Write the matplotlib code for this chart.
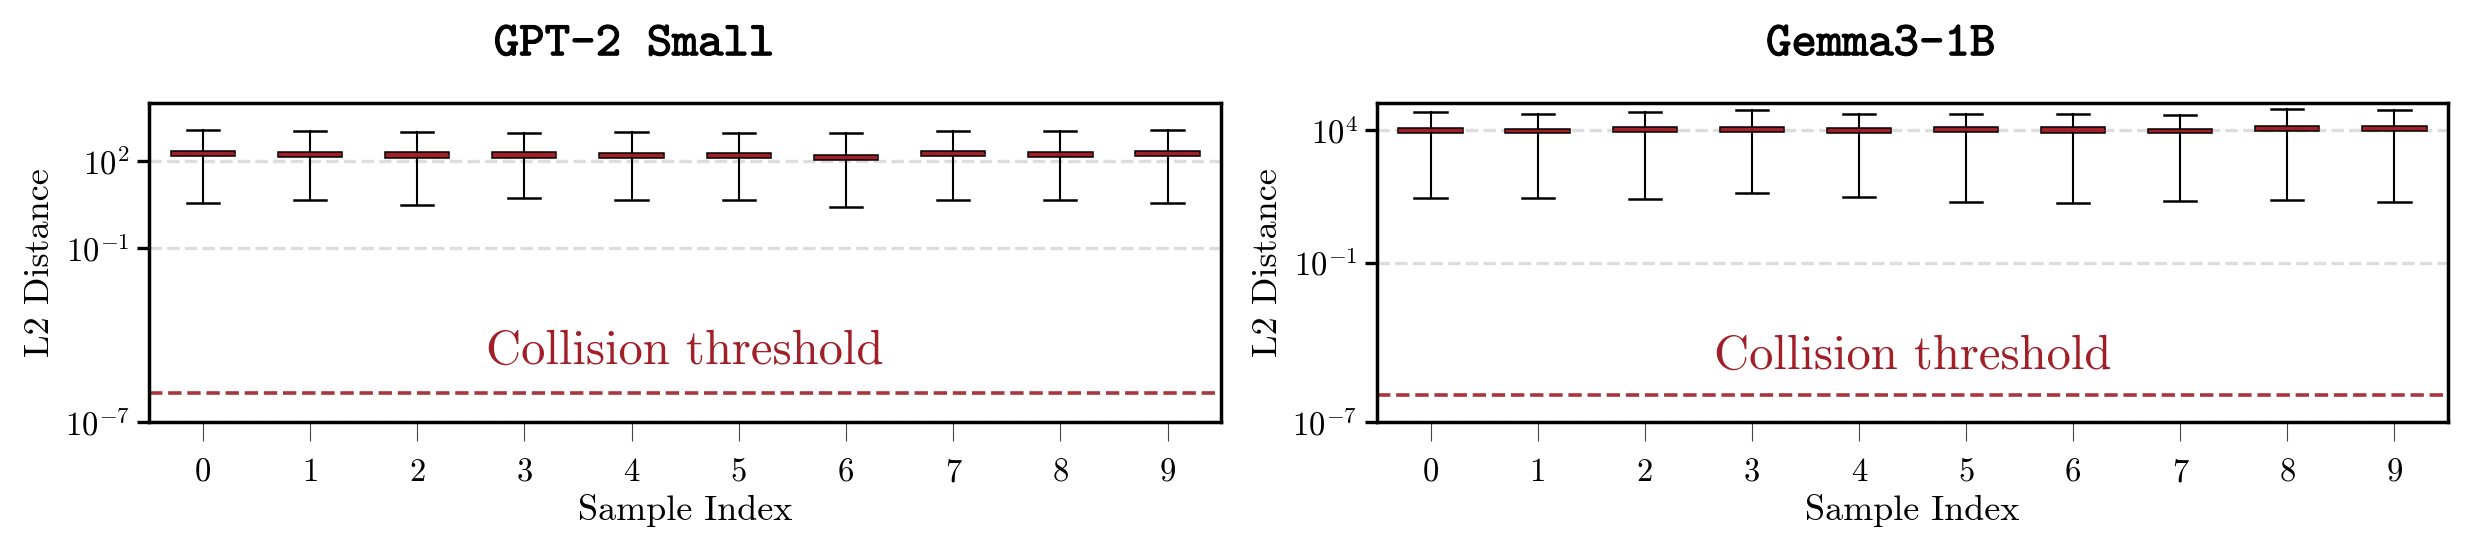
"""Per-sample L2 distance box plots for two models, with the collision threshold."""
import matplotlib

matplotlib.use("Agg")
import matplotlib.pyplot as plt
import matplotlib.patheffects as pe
import numpy as np

plt.rcParams["font.family"] = "serif"
plt.rcParams["font.serif"] = ["cmr10"]
plt.rcParams["mathtext.fontset"] = "cm"
plt.rcParams["axes.formatter.use_mathtext"] = True
plt.rcParams["axes.unicode_minus"] = False

RED = "#a11f27"
THRESHOLD = 1e-6

sample_idx = list(range(10))

# GPT-2 Small: whisker low, q1, median, q3, whisker high
gpt2_whislo = [3.47, 4.37, 3.02, 5.13, 4.37, 4.47, 2.63, 4.68, 4.37, 3.47]
gpt2_q1 = [144.5, 134.9, 131.8, 131.8, 123.0, 123.0, 112.2, 144.5, 138.0, 144.5]
gpt2_med = [180.0, 168.0, 164.0, 162.0, 151.0, 151.0, 135.0, 180.0, 170.0, 180.0]
gpt2_q3 = [223.9, 208.9, 204.2, 199.5, 186.2, 186.2, 162.2, 223.9, 208.9, 223.9]
gpt2_whishi = [1148, 1122, 1000, 955, 977, 955, 955, 1122, 1122, 1202]

# Gemma3-1B
gemma_whislo = [27.5, 26.9, 25.1, 42.7, 28.8, 18.2, 17.4, 20.4, 22.4, 18.2]
gemma_q1 = [7586, 7244, 8128, 8128, 7586, 8318, 7586, 7244, 8913, 8710]
gemma_med = [9330, 8910, 9890, 10120, 9330, 10350, 9550, 8910, 10960, 10840]
gemma_q3 = [11482, 10965, 12023, 12589, 11482, 12882, 12023, 10965, 13490, 13490]
gemma_whishi = [45709, 38019, 46774, 52481, 38019, 37154, 37154, 34674, 60256, 52481]

panels = [
    ("GPT-2 Small", gpt2_whislo, gpt2_q1, gpt2_med, gpt2_q3, gpt2_whishi,
     (1e-7, 1e4), [1e-7, 1e-1, 1e2], 0.4524),
    ("Gemma3-1B", gemma_whislo, gemma_q1, gemma_med, gemma_q3, gemma_whishi,
     (1e-7, 1e5), [1e-7, 1e-1, 1e4], 0.4706),
]

fig = plt.figure(figsize=(24.77, 5.56), dpi=100)
axes = [
    fig.add_axes([0.0602, 0.241, 0.4328, 0.5737]),
    fig.add_axes([0.5559, 0.241, 0.4324, 0.5737]),
]

for ax, (title, wlo, q1, med, q3, whi, ylim, yticks, tx) in zip(axes, panels):
    stats = [
        {"whislo": wlo[i], "q1": q1[i], "med": med[i], "q3": q3[i], "whishi": whi[i],
         "fliers": []}
        for i in range(len(sample_idx))
    ]
    ax.bxp(
        stats,
        positions=sample_idx,
        widths=0.6,
        patch_artist=True,
        showfliers=False,
        boxprops=dict(facecolor=RED, edgecolor="black", linewidth=1.1),
        medianprops=dict(color=RED, linewidth=0.8),
        whiskerprops=dict(color="black", linewidth=1.5),
        capprops=dict(color="black", linewidth=1.8),
    )
    ax.axhline(THRESHOLD, color=RED, ls="--", lw=2.6, alpha=0.9)
    ax.text(np.mean(sample_idx), THRESHOLD * 10, "Collision threshold",
            color=RED, fontsize=35, ha="center", va="baseline")

    ax.set_yscale("log")
    ax.set_ylim(*ylim)
    ax.set_xlim(-0.5, 9.5)
    ax.set_yticks(yticks)
    ax.yaxis.set_minor_locator(matplotlib.ticker.NullLocator())
    ax.set_xticks(sample_idx)
    ax.set_xticklabels([str(i) for i in sample_idx])
    ax.yaxis.grid(True, ls="--", color="#dddddd", lw=2.4)
    ax.set_axisbelow(True)

    ax.tick_params(axis="y", labelsize=23.5, width=2.4, length=9, pad=5)
    ax.tick_params(axis="x", labelsize=23.5, width=0.8, length=14, pad=12,
                   color="#444444")
    for sp in ax.spines.values():
        sp.set_linewidth(2.5)

    ax.set_xlabel("Sample Index", fontsize=26)
    ax.set_ylabel("L2 Distance", fontsize=26)
    ax.xaxis.set_label_coords(0.5, -0.225)
    ax.yaxis.set_label_coords(-0.087, 0.5)

    ax.text(tx, 1.15, title, transform=ax.transAxes, family="cmtt10",
            fontsize=35, ha="center", va="baseline",
            path_effects=[pe.Stroke(linewidth=0.8, foreground="black"), pe.Normal()])

fig.savefig("out.png", dpi=100)
plt.close(fig)
